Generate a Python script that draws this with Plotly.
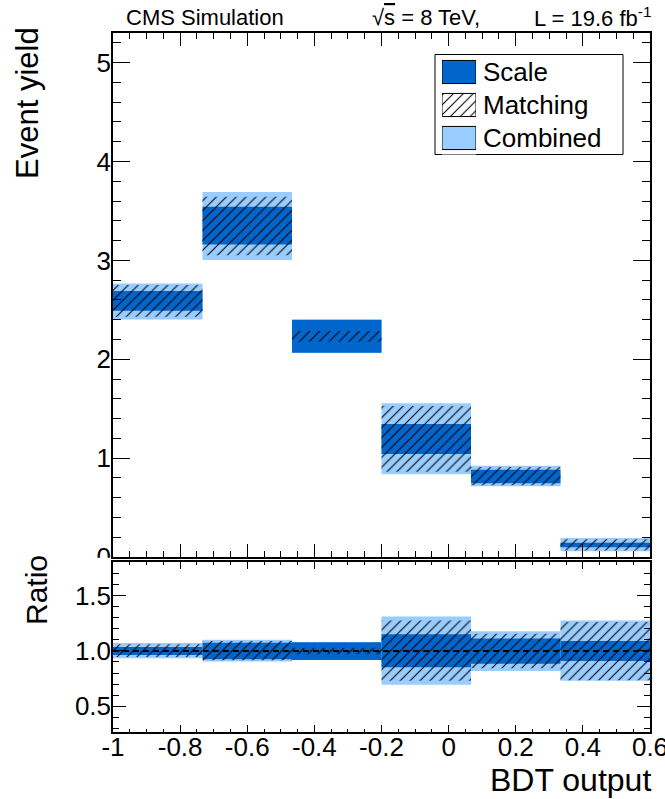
import plotly.graph_objects as go

# ---------------- data ----------------
bin_edges = [-1.0, -0.7333, -0.4667, -0.2, 0.0667, 0.3333, 0.6]

# main panel: event yield bands (low / high)
main_comb_lo = [2.403, 3.003, 2.066, 0.836, 0.715, 0.057]
main_comb_hi = [2.767, 3.691, 2.406, 1.554, 0.923, 0.191]
main_scale_lo = [2.490, 3.162, 2.066, 1.041, 0.745, 0.098]
main_scale_hi = [2.690, 3.542, 2.396, 1.345, 0.883, 0.145]
main_match_lo = [2.430, 3.051, 2.177, 0.862, 0.725, 0.065]
main_match_hi = [2.750, 3.643, 2.285, 1.527, 0.910, 0.180]

# ratio panel bands (low / high)
ratio_comb_lo = [0.934, 0.904, 0.919, 0.693, 0.819, 0.729]
ratio_comb_hi = [1.072, 1.102, 1.078, 1.313, 1.178, 1.277]
ratio_scale_lo = [0.964, 0.925, 0.919, 0.852, 0.883, 0.910]
ratio_scale_hi = [1.036, 1.075, 1.078, 1.151, 1.114, 1.090]
ratio_match_lo = [0.946, 0.916, 0.970, 0.729, 0.843, 0.735]
ratio_match_hi = [1.060, 1.090, 1.030, 1.277, 1.157, 1.262]
ratio_ref = 1.0

x_tick_vals = [-1, -0.8, -0.6, -0.4, -0.2, 0, 0.2, 0.4, 0.6]
x_tick_text = ["-1", "-0.8", "-0.6", "-0.4", "-0.2", "0", "0.2", "0.4", "0.6"]
y_tick_vals = [0, 1, 2, 3, 4, 5]
y_tick_text = ["0", "1", "2", "3", "4", "5"]
r_tick_vals = [0.5, 1.0, 1.5]
r_tick_text = ["0.5", "1.0", "1.5"]

legend_labels = ["Scale", "Matching", "Combined"]

# ---------------- style ----------------
DARK = "#0066CC"
LIGHT = "#99CCFF"
CLEAR = "rgba(0,0,0,0)"
FONT = "Liberation Sans, Arial, Helvetica, sans-serif"

centers = [(bin_edges[i] + bin_edges[i + 1]) / 2 for i in range(len(bin_edges) - 1)]
widths = [bin_edges[i + 1] - bin_edges[i] for i in range(len(bin_edges) - 1)]

W, H = 665, 799
ML, MR, MT, MB = 113, 15, 33, 67
PW, PH = W - ML - MR, H - MT - MB


def px_x(p):
    return (p - ML) / PW


def px_y(p):
    return (H - MB - p) / PH


fig = go.Figure()


def hatch(bg=CLEAR):
    return dict(shape="/", fillmode="overlay", fgcolor="black", bgcolor=bg,
                fgopacity=1, size=7, solidity=0.15)


def add_band(lo, hi, xa, ya, kind):
    height = [h - l for l, h in zip(lo, hi)]
    if kind == "comb":
        marker = dict(color=LIGHT, line=dict(width=0))
    elif kind == "scale":
        marker = dict(color=DARK, line=dict(width=0))
    else:
        marker = dict(color=CLEAR, line=dict(width=0), pattern=hatch())
    fig.add_trace(go.Bar(x=centers, y=height, base=lo, width=widths,
                         marker=marker, xaxis=xa, yaxis=ya,
                         showlegend=False, hoverinfo="skip"))


add_band(main_comb_lo, main_comb_hi, "x", "y", "comb")
add_band(main_scale_lo, main_scale_hi, "x", "y", "scale")
add_band(main_match_lo, main_match_hi, "x", "y", "match")
add_band(ratio_comb_lo, ratio_comb_hi, "x2", "y2", "comb")
add_band(ratio_scale_lo, ratio_scale_hi, "x2", "y2", "scale")
add_band(ratio_match_lo, ratio_match_hi, "x2", "y2", "match")

# legend drawn as a tiny horizontal bar chart
leg_colors = [DARK, "white", LIGHT]
leg_hatched = [False, True, False]
for lab, col, hat in zip(legend_labels, leg_colors, leg_hatched):
    mk = dict(color=col, line=dict(color="black", width=1))
    if hat:
        mk["pattern"] = hatch("white")
    fig.add_trace(go.Bar(y=[lab], x=[1], base=[0], orientation="h", width=0.7,
                         marker=mk, xaxis="x3", yaxis="y3",
                         showlegend=False, hoverinfo="skip"))

axis_common = dict(showline=True, linecolor="black", linewidth=1.5, mirror="allticks",
                   ticks="inside", tickcolor="black", showgrid=False, zeroline=False,
                   tickfont=dict(family=FONT, size=26, color="black"), fixedrange=True,
                   ticklabeloverflow="allow", automargin=False)

main_bottom = px_y(557)
ratio_top = px_y(562)

fig.update_layout(
    width=W, height=H, autosize=False,
    margin=dict(l=ML, r=MR, t=MT, b=MB, pad=0, autoexpand=False),
    paper_bgcolor="white", plot_bgcolor="white",
    barmode="overlay", showlegend=False, hovermode=False,
    font=dict(family=FONT, color="black"),
    xaxis=dict(domain=[0, 1], anchor="y", range=[bin_edges[0], bin_edges[-1]],
               tickvals=x_tick_vals, ticktext=x_tick_text, showticklabels=False,
               ticklen=13, tickwidth=1.2,
               minor=dict(dtick=0.05, ticks="inside", ticklen=6.5, tickcolor="black", tickwidth=1.2),
               **axis_common),
    yaxis=dict(domain=[main_bottom, 1], anchor="x", range=[0, 5.3],
               tickvals=y_tick_vals, ticktext=y_tick_text,
               ticklen=17, tickwidth=1.2, ticklabelstandoff=-5,
               minor=dict(dtick=0.2, ticks="inside", ticklen=8.5, tickcolor="black", tickwidth=1.2),
               **axis_common),
    xaxis2=dict(domain=[0, 1], anchor="y2", range=[bin_edges[0], bin_edges[-1]],
                tickvals=x_tick_vals, ticktext=x_tick_text,
                ticklen=7, tickwidth=1.2, ticklabelstandoff=-9,
                minor=dict(dtick=0.05, ticks="inside", ticklen=3.5, tickcolor="black", tickwidth=1.2),
                **axis_common),
    yaxis2=dict(domain=[0, ratio_top], anchor="x2", range=[0.265, 1.807],
                tickvals=r_tick_vals, ticktext=r_tick_text,
                ticklen=13, tickwidth=1.2, ticklabelstandoff=-5,
                minor=dict(dtick=0.1, ticks="inside", ticklen=6.5, tickcolor="black", tickwidth=1.2),
                **axis_common),
    xaxis3=dict(domain=[px_x(442), px_x(476)], anchor="y3", range=[0, 1],
                showticklabels=False, ticks="", showline=False, showgrid=False,
                zeroline=False, fixedrange=True),
    yaxis3=dict(domain=[px_y(154.5), px_y(55.5)], anchor="x3", side="right",
                type="category", categoryorder="array", categoryarray=legend_labels,
                range=[2.5, -0.5], ticks="", showline=False, showgrid=False,
                zeroline=False, fixedrange=True, ticklabelstandoff=6, automargin=False,
                tickfont=dict(family=FONT, size=26, color="black")),
)

shapes = [
    # legend frame
    dict(type="rect", xref="paper", yref="paper",
         x0=px_x(435), x1=px_x(623), y0=px_y(154.5), y1=px_y(54.5),
         line=dict(color="black", width=1), fillcolor="white", layer="below"),
    # dashed reference line in ratio panel
    dict(type="line", xref="x2 domain", yref="y2", x0=0, x1=1, y0=ratio_ref, y1=ratio_ref,
         line=dict(color="black", width=2, dash="6px,4px"), layer="above"),
    # lower pad hides lower half of the main-panel "0" label
    dict(type="rect", xref="paper", yref="paper",
         x0=px_x(60), x1=px_x(111), y0=px_y(575), y1=px_y(557.8),
         line=dict(width=0), fillcolor="white", layer="above"),
]
fig.update_layout(shapes=shapes)

ann = [
    dict(text="CMS Simulation", x=px_x(124), y=px_y(17), xanchor="left", yanchor="middle",
         font=dict(size=22)),
    dict(text="√<span style='text-decoration:overline'>s</span>&nbsp;=&nbsp;8 TeV,",
         x=px_x(370), y=px_y(17), xanchor="left", yanchor="middle", font=dict(size=22)),
    dict(text="L = 19.6 fb<sup>-1</sup>", x=px_x(653), y=px_y(17), xanchor="right",
         yanchor="middle", font=dict(size=22)),
    dict(text="Event yield", textangle=-90, x=px_x(28), y=px_y(25), xanchor="center",
         yanchor="top", font=dict(size=31)),
    dict(text="Ratio", textangle=-90, x=px_x(36), y=px_y(553), xanchor="center",
         yanchor="top", font=dict(size=30)),
    dict(text="BDT output", x=px_x(653), y=px_y(780), xanchor="right", yanchor="middle",
         font=dict(size=32)),
]
for a in ann:
    a.update(xref="paper", yref="paper", showarrow=False)
    a["font"].update(family=FONT, color="black")
fig.update_layout(annotations=ann)

fig.write_html("out.html", config={"displayModeBar": False, "responsive": False},
               post_script="document.body.style.margin='0';document.body.style.padding='0';"
                           "document.body.style.overflow='hidden';"
                           "document.documentElement.style.overflow='hidden';")
